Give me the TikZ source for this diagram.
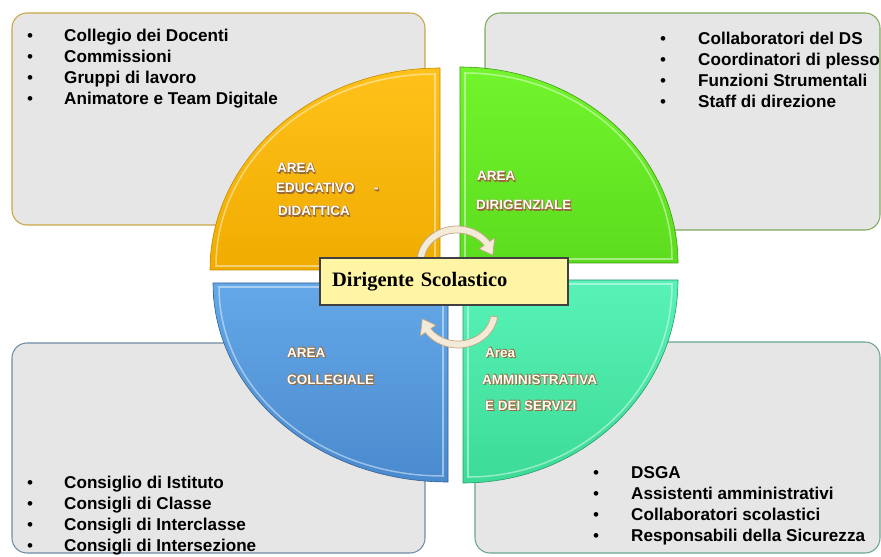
\documentclass[tikz,border=0pt]{standalone}
\usepackage{fontspec}
\setmainfont{Liberation Serif}
\setsansfont{Liberation Sans}
\usetikzlibrary{positioning}

\definecolor{panelgray}{HTML}{E6E6E6}
\definecolor{tlline}{HTML}{C9A545}
\definecolor{trline}{HTML}{7DAA5A}
\definecolor{blline}{HTML}{6E8CA8}
\definecolor{brline}{HTML}{6AA58E}
\definecolor{yellowtop}{HTML}{FFC11A}
\definecolor{yellowbot}{HTML}{F0AC00}
\definecolor{greentop}{HTML}{72F52C}
\definecolor{greenbot}{HTML}{5CDC1E}
\definecolor{bluetop}{HTML}{64A8E8}
\definecolor{bluebot}{HTML}{4A8ACE}
\definecolor{tealtop}{HTML}{58F2B8}
\definecolor{tealbot}{HTML}{3CDB96}
\definecolor{dsfill}{HTML}{FFF5A5}
\definecolor{bandfill}{HTML}{F3EAD8}
\definecolor{bandline}{HTML}{BFA77F}
\definecolor{labshadow}{HTML}{9A6A38}

\tikzset{
    panel/.style={fill=panelgray,line width=0.9pt,rounded corners=0.45cm},
    item/.style={anchor=base west,inner sep=0pt,font=\sffamily\bfseries\fontsize{14.6}{17}\selectfont},
    bul/.style={anchor=base,inner sep=0pt,font=\sffamily\fontsize{14.6}{17}\selectfont},
    qlab/.style={anchor=base west,inner sep=0pt,text=white,font=\sffamily\bfseries\fontsize{11.5}{13}\selectfont},
    rim/.style={draw=white,draw opacity=0.45,line width=1.3pt},
    band/.style={fill=bandfill,draw=bandline,line width=0.6pt,line join=round},
}

\newcommand{\arealabel}[3]{%
    \foreach \dx/\dy in {0.5/-0.5,0.9/-0.9,-0.3/-0.6,0.6/0.3} {
        \node[qlab,text=labshadow,xshift=\dx pt,yshift=\dy pt] at (#2) {#3};
    }
    \node[qlab] (#1) at (#2) {#3};
}

\begin{document}
\begin{tikzpicture}[x=0.03cm,y=0.03cm]
    \useasboundingbox (0,0) rectangle (881,556);

    % panels
    \draw[panel,draw=tlline] (12,331) rectangle (425,543);
    \draw[panel,draw=trline] (485,326) rectangle (880,543);
    \draw[panel,draw=blline] (12,3) rectangle (425,213);
    \draw[panel,draw=brline] (475,3) rectangle (880,214);

    % quarters
    \shade[top color=yellowtop,bottom color=yellowbot,draw=yellowbot!80!black,line width=0.5pt]
        (440,286) -- ++(-230,0) arc[start angle=180,end angle=90,x radius=230,y radius=202] -- cycle;
    \draw[rim] (435,290) -- ++(-219,0) arc[start angle=180,end angle=90,x radius=219,y radius=192] -- cycle;
    \shade[top color=greentop,bottom color=greenbot,draw=greenbot!70!black,line width=0.5pt]
        (460,293) -- ++(0,196) arc[start angle=90,end angle=0,x radius=218,y radius=196] -- cycle;
    \draw[rim] (465,297) -- ++(0,186) arc[start angle=90,end angle=0,x radius=207,y radius=186] -- cycle;
    \shade[top color=bluetop,bottom color=bluebot,draw=bluebot!70!black,line width=0.5pt]
        (448,273) -- ++(-235,0) arc[start angle=180,end angle=270,x radius=235,y radius=199] -- cycle;
    \draw[rim] (443,269) -- ++(-224,0) arc[start angle=180,end angle=270,x radius=224,y radius=189] -- cycle;
    \shade[top color=tealtop,bottom color=tealbot,draw=tealbot!70!black,line width=0.5pt]
        (463,276) -- ++(215,0) arc[start angle=0,end angle=-90,x radius=215,y radius=203] -- cycle;
    \draw[rim] (468,272) -- ++(204,0) arc[start angle=0,end angle=-90,x radius=204,y radius=193] -- cycle;

    \arealabel{ed1}{277,383}{AREA}
    \arealabel{ed2}{276,363}{EDUCATIVO}
    \arealabel{ed3}{374,363}{-}
    \arealabel{ed4}{278,340}{DIDATTICA}
    \arealabel{di1}{477,375}{AREA}
    \arealabel{di2}{476,346}{DIRIGENZIALE}
    \arealabel{co1}{287,199}{AREA}
    \arealabel{co2}{287,172}{COLLEGIALE}
    \arealabel{am1}{485,199}{Area}
    \arealabel{am2}{482,172}{AMMINISTRATIVA}
    \arealabel{am3}{485,146}{E DEI SERVIZI}

    % turning arrows
    \coordinate (tc) at (457,294);
    \coordinate (bc) at (458,244);
    \filldraw[band] ([shift={(172:40 and 36)}]tc) arc[start angle=172,end angle=35,x radius=40,y radius=36]
        -- ([shift={(35:46 and 42)}]tc) -- ([shift={(12:36.5 and 32.5)}]tc) -- ([shift={(35:27 and 23)}]tc)
        -- ([shift={(35:33 and 29)}]tc) arc[start angle=35,end angle=172,x radius=33,y radius=29] -- cycle;
    \filldraw[band] ([shift={(-8:40 and 36)}]bc) arc[start angle=-8,end angle=-145,x radius=40,y radius=36]
        -- ([shift={(-145:46 and 42)}]bc) -- ([shift={(-168:36.5 and 32.5)}]bc) -- ([shift={(-145:27 and 23)}]bc)
        -- ([shift={(-145:33 and 29)}]bc) arc[start angle=-145,end angle=-8,x radius=33,y radius=29] -- cycle;

    \node[draw=black!75,fill=dsfill,line width=0.9pt,minimum width=7.44cm,minimum height=1.41cm,
        text width=6.72cm,inner xsep=0.36cm,align=left,font=\rmfamily\bfseries\fontsize{17.5}{20}\selectfont]
        (ds) at (444,274.5) {Dirigente\,\,Scolastico};

    % lists
    \foreach \t [count=\i] in {Collegio dei Docenti,Commissioni,Gruppi di lavoro,Animatore e Team Digitale} {
        \node[bul] (tlb\i) at (30,535-21*\i) {\textbullet};
        \node[item] (tl\i) at (64,535-21*\i) {\t};
    }
    \foreach \t [count=\i] in {Collaboratori del DS,Coordinatori di plesso,Funzioni Strumentali,Staff di direzione} {
        \node[bul] (trb\i) at (663,532-21*\i) {\textbullet};
        \node[item] (tr\i) at (698,532-21*\i) {\t};
    }
    \foreach \t [count=\i] in {Consiglio di Istituto,Consigli di Classe,Consigli di Interclasse,Consigli di Intersezione} {
        \node[bul] (blb\i) at (30,89-21*\i) {\textbullet};
        \node[item] (bl\i) at (64,89-21*\i) {\t};
    }
    \foreach \t [count=\i] in {DSGA,Assistenti amministrativi,Collaboratori scolastici,Responsabili della Sicurezza} {
        \node[bul] (brb\i) at (596,99-21*\i) {\textbullet};
        \node[item] (br\i) at (631,99-21*\i) {\t};
    }
\end{tikzpicture}
\end{document}
